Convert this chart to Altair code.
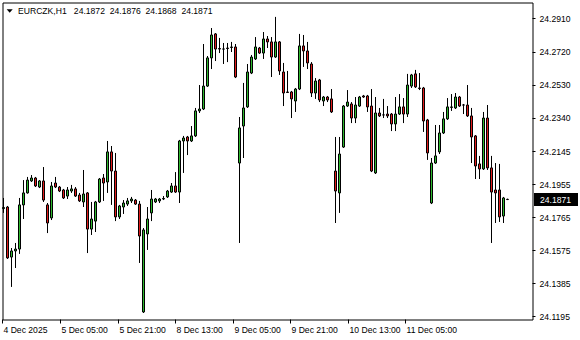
import altair as alt
import pandas as pd

symbol = "EURCZK,H1"

opens = [
    24.1819, 24.1828, 24.1540, 24.1575, 24.1586, 24.1840, 24.1909, 24.1978, 24.1995, 24.1943,
    24.1978, 24.1840, 24.1765, 24.1966, 24.1943, 24.1926, 24.1891, 24.1920, 24.1932, 24.1897,
    24.1857, 24.1909, 24.1701, 24.1747, 24.1857, 24.1995, 24.1972, 24.2145, 24.2035, 24.1771,
    24.1828, 24.1845, 24.1863, 24.1868, 24.1845, 24.1224, 24.1673, 24.1794, 24.1857, 24.1863,
    24.1874, 24.1886, 24.1914, 24.1949, 24.1914, 24.2208, 24.2231, 24.2208, 24.2237, 24.2381,
    24.2392, 24.2524, 24.2686, 24.2824, 24.2740, 24.2737, 24.2743, 24.2746, 24.2749, 24.2081,
    24.2294, 24.2404, 24.2599, 24.2680, 24.2743, 24.2714, 24.2795, 24.2778, 24.2691, 24.2778,
    24.2605, 24.2490, 24.2490, 24.2438, 24.2507, 24.2755, 24.2726, 24.2651, 24.2484, 24.2559,
    24.2438, 24.2461, 24.2450, 24.2035, 24.1909, 24.2173, 24.2409, 24.2421, 24.2340, 24.2409,
    24.2467, 24.2467, 24.2409, 24.2024, 24.2369, 24.2358, 24.2363, 24.2363, 24.2306, 24.2363,
    24.2404, 24.2363, 24.2524, 24.2594, 24.2513, 24.2513, 24.2329, 24.1851, 24.2081, 24.2145,
    24.2254, 24.2335, 24.2401, 24.2398, 24.2461, 24.2415, 24.2415, 24.2352, 24.2237, 24.2076,
    24.2047, 24.2340, 24.2053, 24.1926, 24.1926, 24.1776, 24.1872,
]
highs = [
    24.1880, 24.1834, 24.1592, 24.1621, 24.1880, 24.1983, 24.2001, 24.2012, 24.2001, 24.1983,
    24.2058, 24.1851, 24.1972, 24.2001, 24.1949, 24.1932, 24.1943, 24.1955, 24.1943, 24.1909,
    24.2041, 24.1914, 24.1857, 24.1863, 24.1995, 24.2018, 24.2208, 24.2179, 24.2139, 24.1840,
    24.1868, 24.1880, 24.1886, 24.1874, 24.1863, 24.1707, 24.1828, 24.1926, 24.1880, 24.1880,
    24.1891, 24.1926, 24.1966, 24.2029, 24.2214, 24.2237, 24.2237, 24.2294, 24.2398, 24.2530,
    24.2766, 24.2697, 24.2858, 24.2829, 24.2801, 24.2772, 24.2772, 24.2778, 24.2766, 24.2346,
    24.2542, 24.2651, 24.2703, 24.2806, 24.2749, 24.2835, 24.2812, 24.2806, 24.2922, 24.2783,
    24.2657, 24.2611, 24.2496, 24.2513, 24.2824, 24.2818, 24.2778, 24.2662, 24.2570, 24.2565,
    24.2467, 24.2467, 24.2507, 24.2231, 24.2231, 24.2415, 24.2501, 24.2432, 24.2461, 24.2467,
    24.2473, 24.2473, 24.2507, 24.2461, 24.2398, 24.2450, 24.2409, 24.2369, 24.2461, 24.2478,
    24.2455, 24.2594, 24.2594, 24.2617, 24.2599, 24.2519, 24.2335, 24.2110, 24.2300, 24.2300,
    24.2375, 24.2455, 24.2478, 24.2484, 24.2467, 24.2421, 24.2530, 24.2398, 24.2242, 24.2122,
    24.2375, 24.2415, 24.2122, 24.2081, 24.2076, 24.1886, 24.1876,
]
lows = [
    24.1794, 24.1529, 24.1368, 24.1477, 24.1558, 24.1759, 24.1905, 24.1972, 24.1943, 24.1937,
    24.1857, 24.1678, 24.1753, 24.1937, 24.1914, 24.1874, 24.1874, 24.1909, 24.1886, 24.1857,
    24.1828, 24.1563, 24.1667, 24.1684, 24.1851, 24.1863, 24.1909, 24.1840, 24.1747, 24.1759,
    24.1788, 24.1834, 24.1851, 24.1840, 24.1506, 24.1218, 24.1581, 24.1747, 24.1851, 24.1851,
    24.1868, 24.1880, 24.1909, 24.1909, 24.1851, 24.2024, 24.2127, 24.2202, 24.2231, 24.2369,
    24.2386, 24.2519, 24.2622, 24.2668, 24.2714, 24.2651, 24.2662, 24.2720, 24.2570, 24.1621,
    24.2110, 24.2398, 24.2593, 24.2674, 24.2709, 24.2680, 24.2743, 24.2576, 24.2686, 24.2588,
    24.2409, 24.2484, 24.2340, 24.2375, 24.2501, 24.2634, 24.2622, 24.2461, 24.2450, 24.2432,
    24.2409, 24.2432, 24.2369, 24.1736, 24.1794, 24.2168, 24.2404, 24.2311, 24.2311, 24.2404,
    24.2456, 24.2375, 24.2029, 24.2018, 24.2346, 24.2340, 24.2340, 24.2265, 24.2265, 24.2358,
    24.2311, 24.2346, 24.2513, 24.2513, 24.2501, 24.2260, 24.2099, 24.1845, 24.2076, 24.2133,
    24.2248, 24.2329, 24.2381, 24.2392, 24.2404, 24.2363, 24.2346, 24.2081, 24.1989, 24.1989,
    24.2041, 24.2041, 24.1621, 24.1736, 24.1742, 24.1736, 24.1868,
]
closes = [
    24.1825, 24.1535, 24.1575, 24.1586, 24.1840, 24.1909, 24.1983, 24.1995, 24.1949, 24.1978,
    24.1868, 24.1736, 24.1949, 24.1943, 24.1920, 24.1880, 24.1926, 24.1932, 24.1891, 24.1863,
    24.1903, 24.1701, 24.1759, 24.1857, 24.1989, 24.1966, 24.2145, 24.2035, 24.1771, 24.1834,
    24.1851, 24.1863, 24.1874, 24.1845, 24.1661, 24.1696, 24.1759, 24.1874, 24.1874, 24.1874,
    24.1877, 24.1920, 24.1949, 24.1914, 24.2208, 24.2225, 24.2208, 24.2237, 24.2381, 24.2392,
    24.2524, 24.2686, 24.2818, 24.2737, 24.2737, 24.2737, 24.2740, 24.2749, 24.2576, 24.2283,
    24.2398, 24.2605, 24.2691, 24.2749, 24.2714, 24.2795, 24.2778, 24.2691, 24.2778, 24.2611,
    24.2484, 24.2487, 24.2450, 24.2507, 24.2755, 24.2726, 24.2657, 24.2484, 24.2553, 24.2444,
    24.2461, 24.2444, 24.2375, 24.1920, 24.2133, 24.2409, 24.2432, 24.2340, 24.2415, 24.2461,
    24.2461, 24.2404, 24.2035, 24.2369, 24.2352, 24.2358, 24.2352, 24.2306, 24.2363, 24.2404,
    24.2363, 24.2530, 24.2588, 24.2519, 24.2510, 24.2323, 24.2139, 24.2081, 24.2122, 24.2254,
    24.2335, 24.2404, 24.2404, 24.2461, 24.2409, 24.2415, 24.2352, 24.2231, 24.2064, 24.2047,
    24.2340, 24.2053, 24.1914, 24.1909, 24.1771, 24.1880, 24.1871,
]

time_labels = ["4 Dec 2025", "5 Dec 05:00", "5 Dec 21:00", "8 Dec 13:00",
               "9 Dec 05:00", "9 Dec 21:00", "10 Dec 13:00", "11 Dec 05:00"]
time_label_bars = [-0.25, 14.25, 28.75, 43.0, 57.5, 71.75, 86.25, 100.5]
price_ticks = [24.2910, 24.2720, 24.2530, 24.2340, 24.2145,
               24.1955, 24.1765, 24.1575, 24.1385, 24.1195]

GREEN = "#2EB82E"
RED = "#E01B1B"
FONT = "Liberation Sans"
FS = 8.6

n = len(opens)
df = pd.DataFrame({"bar": list(range(n)), "open": opens, "high": highs,
                   "low": lows, "close": closes})
df["bar_l"] = df["bar"] - 0.25
df["bar_r"] = df["bar"] + 0.25
df["dir"] = ["up" if c > o else ("down" if c < o else "flat")
             for o, c in zip(opens, closes)]

x_scale = alt.Scale(domain=[-0.25, 132.25], nice=False, zero=False)
y_scale = alt.Scale(domain=[24.11806, 24.30049], nice=False, zero=False)

label_expr = " : ".join(f"datum.value == {v} ? '{t}'"
                        for v, t in zip(time_label_bars, time_labels)) + " : ''"

x_axis = alt.Axis(values=time_label_bars, labelExpr=label_expr, orient="bottom",
                  title=None, grid=False, domain=False, ticks=True, tickSize=4,
                  tickColor="black", labelColor="black", labelFont=FONT,
                  labelFontSize=FS, labelAlign="left", labelBaseline="top",
                  labelPadding=2, labelOffset=1, labelOverlap=False,
                  labelFlush=False, translate=0)
y_axis = alt.Axis(values=price_ticks, format=".4f", orient="right", title=None,
                  grid=False, domain=False, ticks=True, tickSize=3,
                  tickColor="black", labelColor="black", labelFont=FONT,
                  labelFontSize=FS, labelAlign="left", labelBaseline="middle",
                  labelPadding=4, labelOverlap=False, labelFlush=False,
                  translate=0)

base = alt.Chart(df)
wicks = base.mark_rule(color="black", strokeWidth=1).encode(
    x=alt.X("bar:Q", scale=x_scale, axis=x_axis),
    y=alt.Y("low:Q", scale=y_scale, axis=y_axis),
    y2="high:Q",
)
bodies = base.mark_rect(stroke="black", strokeWidth=1).encode(
    x=alt.X("bar_l:Q", scale=x_scale, axis=x_axis),
    x2="bar_r:Q",
    y=alt.Y("open:Q", scale=y_scale, axis=y_axis),
    y2="close:Q",
    fill=alt.Fill("dir:N", scale=alt.Scale(domain=["up", "down", "flat"],
                                           range=[GREEN, RED, "black"]),
                  legend=None),
)

last = pd.DataFrame({"p": [closes[-1]]})
box = alt.Chart(last).mark_rule(color="black", strokeWidth=13, strokeCap="butt").encode(
    y=alt.Y("p:Q", scale=y_scale, axis=y_axis),
    x=alt.value(531.5), x2=alt.value(575.5),
)
box_text = alt.Chart(last).mark_text(align="left", baseline="middle", color="white",
                                     font=FONT, fontSize=FS).encode(
    y=alt.Y("p:Q", scale=y_scale, axis=y_axis),
    x=alt.value(537.5),
    text=alt.Text("p:Q", format=".4f"),
)

header_str = (f"{symbol}\u00a0\u00a0\u00a0{opens[-1]:.4f}\u00a0\u00a0{highs[-1]:.4f}"
              f"\u00a0\u00a0{lows[-1]:.4f}\u00a0\u00a0{closes[-1]:.4f}")
hdr = pd.DataFrame({"t": [header_str]})
tri = alt.Chart(hdr).mark_point(shape="M-1,-0.6L1,-0.6L0,0.6Z", filled=True,
                                size=36, color="black", opacity=1).encode(
    x=alt.value(7.2), y=alt.value(8.5))
header = alt.Chart(hdr).mark_text(align="left", baseline="alphabetic", color="black",
                                  font=FONT, fontSize=FS).encode(
    x=alt.value(15.5), y=alt.value(11.5), text="t:N")

chart = alt.layer(wicks, bodies, box, box_text, tri, header).properties(
    width=530, height=317,
    padding={"left": 2.5, "top": 2.5, "right": 47.5, "bottom": 20.5},
    autosize=alt.AutoSizeParams(type="none"),
    background="white",
).configure_view(stroke="black", strokeWidth=1)

chart.save("out.html", embed_options={"renderer": "svg", "actions": False})
